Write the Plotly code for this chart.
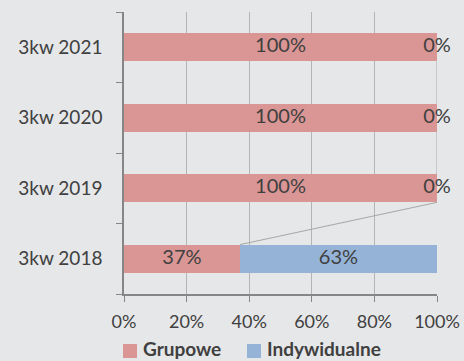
import plotly.graph_objects as go

# Share of contract types per quarter (percent)
categories = ["3kw 2018", "3kw 2019", "3kw 2020", "3kw 2021"]
grupowe = [37, 100, 100, 100]
indywidualne = [63, 0, 0, 0]
x_ticks = [0, 20, 40, 60, 80, 100]

PINK = "#d99694"
BLUE = "#95b3d7"
BG = "#e6e7e9"
TEXT = "#404040"
FONT = "Lato"
BAR_W = 0.4

fig = go.Figure()

fig.add_trace(go.Bar(
    name="Grupowe", y=categories, x=grupowe, orientation="h",
    marker=dict(color=PINK, line=dict(width=0)), width=BAR_W,
    textposition="none", showlegend=False,
))
fig.add_trace(go.Bar(
    name="Indywidualne", y=categories, x=indywidualne, orientation="h",
    marker=dict(color=BLUE, line=dict(width=0)), width=BAR_W,
    textposition="none", showlegend=False,
))

# Value labels centred on each segment (also for empty segments)
label_x = [g / 2 for g in grupowe] + [g + i / 2 for g, i in zip(grupowe, indywidualne)]
label_y = categories + categories
label_t = [f"{v}%" for v in grupowe] + [f"{v}%" for v in indywidualne]
fig.add_trace(go.Scatter(
    y=label_y, x=label_x, mode="text", text=label_t,
    textposition="middle center", cliponaxis=False,
    textfont=dict(family=FONT, size=20, color=TEXT),
    showlegend=False, hoverinfo="skip",
))

# Series lines joining the ends of the first series between neighbouring bars
for k in range(len(categories) - 1):
    fig.add_shape(
        type="line", xref="x", yref="y",
        x0=grupowe[k], y0=k + BAR_W / 2,
        x1=grupowe[k + 1], y1=k + 1 - BAR_W / 2,
        line=dict(color="#a6a6a6", width=1),
        layer="above",
    )

# Legend row below the axis
legend_items = [("Grupowe", PINK, 123), ("Indywidualne", BLUE, 247)]
plot_l, plot_w, plot_b, plot_h = 124, 313, 294, 282
box_cy, text_cy = 351, 348
for name, color, px in legend_items:
    fig.add_shape(
        type="rect", xref="paper", yref="paper",
        x0=(px - plot_l) / plot_w, x1=(px + 14 - plot_l) / plot_w,
        y0=(plot_b - (box_cy + 7)) / plot_h, y1=(plot_b - (box_cy - 7)) / plot_h,
        fillcolor=color, line=dict(width=0),
    )
    fig.add_annotation(
        xref="paper", yref="paper",
        x=(px + 19 - plot_l) / plot_w, y=(plot_b - text_cy) / plot_h,
        xanchor="left", yanchor="middle", showarrow=False,
        borderpad=0,
        text=f"<b>{name}</b>",
        font=dict(family=FONT, size=19, color=TEXT),
    )

fig.update_layout(
    width=464, height=361,
    margin=dict(l=124, r=27, t=12, b=67, autoexpand=False),
    paper_bgcolor=BG, plot_bgcolor=BG,
    barmode="stack",
    font=dict(family=FONT, size=18, color=TEXT),
    showlegend=False,
    xaxis=dict(
        range=[0, 100], tickvals=x_ticks,
        ticktext=[f"{v}%" for v in x_ticks],
        showgrid=True, gridcolor="#b4b4b4", gridwidth=1,
        showline=True, linecolor="#868686", linewidth=1.5,
        ticks="outside", ticklen=6, tickcolor="#868686",
        ticklabelstandoff=5,
        tickfont=dict(family=FONT, size=18, color=TEXT),
        zeroline=False, fixedrange=True, automargin=False,
    ),
    yaxis=dict(
        type="category", categoryorder="array", categoryarray=categories,
        range=[-0.5, len(categories) - 0.5],
        showline=True, linecolor="#868686", linewidth=1.5,
        ticks="outside", ticklen=6, tickcolor="#868686",
        tickson="boundaries", ticklabelstandoff=16,
        tickfont=dict(family=FONT, size=19, color=TEXT),
        showgrid=False, fixedrange=True, automargin=False,
    ),
)

fig.write_html("out.html")
